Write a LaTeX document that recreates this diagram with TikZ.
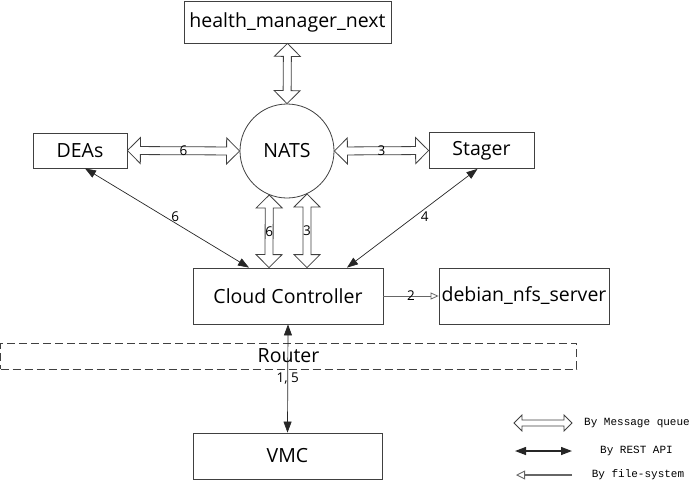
\documentclass[tikz,border=0pt]{standalone}
\usepackage{fontspec}
\setmainfont{Open Sans}
\newfontfamily\legendfont{Liberation Mono}
\usetikzlibrary{calc,arrows.meta}

% hollow two-headed arrow: from, to, head length, head half width, shaft half width
\newcommand{\mqarrow}[5]{%
  \draw[mq] (#1) -- ($(#1)!#3!(#2)!#4!90:(#2)$) -- ($(#1)!#3!(#2)!#5!90:(#2)$)
    -- ($(#2)!#3!(#1)!#5!-90:(#1)$) -- ($(#2)!#3!(#1)!#4!-90:(#1)$) -- (#2)
    -- ($(#2)!#3!(#1)!#4!90:(#1)$) -- ($(#2)!#3!(#1)!#5!90:(#1)$)
    -- ($(#1)!#3!(#2)!#5!-90:(#2)$) -- ($(#1)!#3!(#2)!#4!-90:(#2)$) -- cycle;}

\begin{document}
\begin{tikzpicture}[x=1pt,y=-1pt,
    box/.style={draw=black!75, line width=0.8pt, inner sep=0pt, font=\fontsize{19.5}{22}\selectfont},
    num/.style={font=\fontsize{13.5}{15}\selectfont, inner sep=1pt},
    mq/.style={draw=black!75, line width=0.8pt, fill=white, line join=miter},
    rest/.style={draw=black!85, line width=0.7pt, {Triangle[length=11pt,width=8pt]}-{Triangle[length=11pt,width=8pt]}},
    fs/.style={draw=black!60, line width=0.8pt, -{Triangle[open,length=8pt,width=7pt]}},
    legend/.style={font=\legendfont\fontsize{11}{13}\selectfont, inner sep=0pt}]
  \useasboundingbox (0,0) rectangle (691,483);

  % components
  \node[box, minimum width=207pt, minimum height=42pt] (hm) at (287.5,22) {health\_manager\_next};
  \node[box, circle, minimum size=94pt] (nats) at (287,151) {NATS};
  \node[box, minimum width=94pt, minimum height=35pt] (deas) at (80,150.5) {DEAs};
  \node[box, minimum width=105pt, minimum height=36pt] (stager) at (481.5,150.5) {Stager};
  \node[box, minimum width=190pt, minimum height=56pt] (cc) at (288,296) {Cloud Controller};
  \node[box, minimum width=170pt, minimum height=56pt] (nfs) at (524,296) {debian\_nfs\_server};
  \node[box, dashed, dash pattern=on 8pt off 4pt, minimum width=576pt, minimum height=26pt] (router) at (288.5,356) {Router};
  \node[box, minimum width=189pt, minimum height=46pt] (vmc) at (287.5,456) {VMC};

  \coordinate (natsl) at (nats.248);
  \coordinate (natsr) at (nats.295);
  \coordinate (ccl) at ([xshift=-19pt]cc.north);
  \coordinate (ccr) at ([xshift=19pt]cc.north);

  % message queue
  \mqarrow{hm.south}{nats.north}{13pt}{13pt}{4pt}
  \mqarrow{deas.east}{nats.west}{13pt}{13pt}{4pt}
  \mqarrow{nats.east}{stager.west}{13pt}{13pt}{4pt}
  \mqarrow{natsl}{ccl}{13pt}{13pt}{4pt}
  \mqarrow{natsr}{ccr}{13pt}{13pt}{4pt}
  \path (deas.east) -- (nats.west) node[midway, num] {6};
  \path (nats.east) -- (stager.west) node[midway, num] {3};
  \path (natsl) -- (ccl) node[midway, num] {6};
  \path (natsr) -- (ccr) node[midway, num] {3};

  % REST API
  \draw[rest] ([xshift=5pt]deas.south) -- ([xshift=-39pt]cc.north) node[pos=0.55, above, num] {6};
  \draw[rest] ([xshift=-4pt]stager.south) -- ([xshift=59pt]cc.north) node[pos=0.42, below, num, xshift=2pt] {4};
  \draw[rest] (vmc.north) -- (cc.south) node[midway, num] {1, 5};

  % file system
  \draw[fs] (cc.east) -- (nfs.west) node[midway, num] {2};

  % legend
  \coordinate (mqa) at (514,423);
  \coordinate (mqb) at (572,423);
  \mqarrow{mqa}{mqb}{8pt}{8pt}{3pt}
  \node[legend] (mqtxt) at (637,423) {By Message queue};
  \coordinate (ra) at (515,451);
  \coordinate (rb) at (572,451);
  \draw[rest, line width=1.3pt] (ra) -- (rb);
  \node[legend] (resttxt) at (636.5,451) {By REST API};
  \coordinate (fa) at (572,475);
  \coordinate (fb) at (516,475);
  \draw[fs, line width=2pt, -{Triangle[open,length=9pt,width=9pt,line width=0.9pt]}] (fa) -- (fb);
  \node[legend] (fstxt) at (638,475) {By file-system};
\end{tikzpicture}
\end{document}
